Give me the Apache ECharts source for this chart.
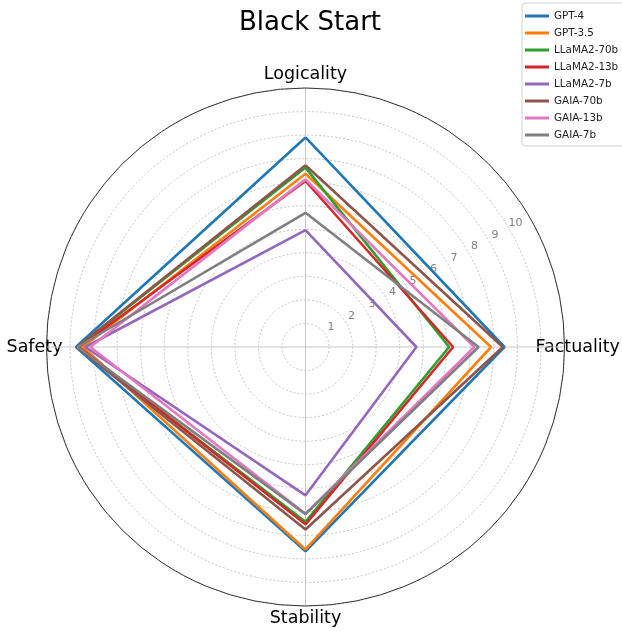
<!DOCTYPE html>
<html>
<head>
<meta charset="utf-8">
<script src="https://cdn.jsdelivr.net/npm/echarts@6/dist/echarts.min.js"></script>
<style>
  html, body { margin: 0; padding: 0; background: #fff; }
  #main { width: 622px; height: 631px; }
</style>
</head>
<body>
<div id="main"></div>
<script>
// axes, clockwise from the top
var indicators = ['Logicality', 'Factuality', 'Stability', 'Safety'];
var angles = [0, 90, 180, 270];
var radiusTicks = ['1', '2', '3', '4', '5', '6', '7', '8', '9', '10'];

var models = ['GPT-4', 'GPT-3.5', 'LLaMA2-70b', 'LLaMA2-13b', 'LLaMA2-7b', 'GAIA-70b', 'GAIA-13b', 'GAIA-7b'];
var colors = ['#1f77b4', '#ff7f0e', '#2ca02c', '#d62728', '#9467bd', '#8c564b', '#e377c2', '#7f7f7f'];

// scores per model: Logicality, Factuality, Stability, Safety
var gpt4      = [8.9, 8.45, 8.68, 9.75];
var gpt35     = [7.36, 7.88, 8.6, 9.45];
var llama70b  = [7.62, 6.1, 7.42, 9.68];
var llama13b  = [7.05, 6.27, 7.53, 9.62];
var llama7b   = [4.96, 4.71, 6.3, 9.35];
var gaia70b   = [7.72, 8.38, 7.75, 9.7];
var gaia13b   = [7.12, 7.17, 7.08, 9.14];
var gaia7b    = [5.7, 7.35, 7.1, 9.68];

var scores = [gpt4, gpt35, llama70b, llama13b, llama7b, gaia70b, gaia13b, gaia7b];

var FONT = 'DejaVu Sans';
var CENTER = [305.5, 347];
var RADIUS = 259;

// name label style keys, same order as indicators
var nameKeys = ['t', 'r', 'b', 'l'];

function toPolar(vals) {
  var pts = vals.map(function (v, i) { return [v, angles[i]]; });
  pts.push([vals[0], 360]);
  return pts;
}

function nameStyle(pad) {
  return { fontFamily: FONT, fontSize: 17.5, color: '#000', lineHeight: 20, padding: pad };
}

var chart = echarts.init(document.getElementById('main'));

var series = models.map(function (name, i) {
  return {
    name: name,
    type: 'line',
    coordinateSystem: 'polar',
    polarIndex: 0,
    data: toPolar(scores[i]),
    symbol: 'none',
    lineStyle: { width: 2.6, color: colors[i] },
    itemStyle: { color: colors[i] },
    z: 3 + i
  };
});

chart.setOption({
  animation: false,
  textStyle: { fontFamily: FONT },
  title: {
    text: 'Black Start',
    left: 305,
    textAlign: 'center',
    top: 5,
    textStyle: { fontFamily: FONT, fontSize: 26, fontWeight: 'normal', color: '#000' }
  },
  legend: {
    data: models,
    orient: 'vertical',
    left: 522,
    top: 3,
    padding: [7, 8, 5, 3],
    itemWidth: 24,
    itemHeight: 3,
    itemGap: 5,
    icon: 'rect',
    borderColor: '#d0d0d0',
    borderWidth: 1,
    borderRadius: 3,
    backgroundColor: '#fff',
    textStyle: { fontFamily: FONT, fontSize: 10.4, color: '#222', lineHeight: 12 }
  },
  polar: [
    { center: CENTER, radius: RADIUS },
    { center: CENTER, radius: RADIUS }
  ],
  angleAxis: [
    {
      polarIndex: 0,
      type: 'value',
      min: 0,
      max: 360,
      interval: 90,
      startAngle: 90,
      clockwise: true,
      axisLine: { show: true, lineStyle: { color: '#333', width: 1 } },
      axisTick: { show: false },
      splitLine: { show: true, lineStyle: { color: '#c8c8c8', width: 1 } },
      axisLabel: {
        margin: -30,
        fontFamily: FONT,
        fontSize: 17.5,
        color: '#000',
        formatter: function (v) {
          var i = angles.indexOf(v);
          return i >= 0 ? '{' + nameKeys[i] + '|' + indicators[i] + '}' : '';
        },
        rich: {
          t: nameStyle([0, 0, 68, 0]),
          r: nameStyle([0, 0, 0, 1]),
          b: nameStyle([64, 0, 0, 0]),
          l: nameStyle([0, 14, 0, 0])
        }
      }
    },
    {
      polarIndex: 1,
      type: 'value',
      min: 0,
      max: 360,
      startAngle: 29.5,
      axisLine: { show: false },
      axisTick: { show: false },
      splitLine: { show: false },
      axisLabel: { show: false }
    }
  ],
  radiusAxis: [
    {
      polarIndex: 0,
      type: 'value',
      min: 0,
      max: 11,
      interval: 1,
      axisLine: { show: false },
      axisTick: { show: false },
      axisLabel: { show: false },
      splitLine: { show: true, lineStyle: { color: '#bdbdbd', width: 0.9, type: [2, 2] } }
    },
    {
      polarIndex: 1,
      type: 'value',
      min: 0,
      max: 11,
      interval: 1,
      axisLine: { show: false },
      axisTick: { show: false },
      splitLine: { show: false },
      axisLabel: {
        margin: 0,
        align: 'center',
        verticalAlign: 'bottom',
        lineHeight: 16,
        padding: [0, 0, 0, 10],
        fontFamily: FONT,
        fontSize: 11,
        color: '#808080',
        formatter: function (v) {
          var i = radiusTicks.indexOf(String(v));
          return i >= 0 ? radiusTicks[i] : '';
        }
      }
    }
  ],
  series: series
});
</script>
</body>
</html>
